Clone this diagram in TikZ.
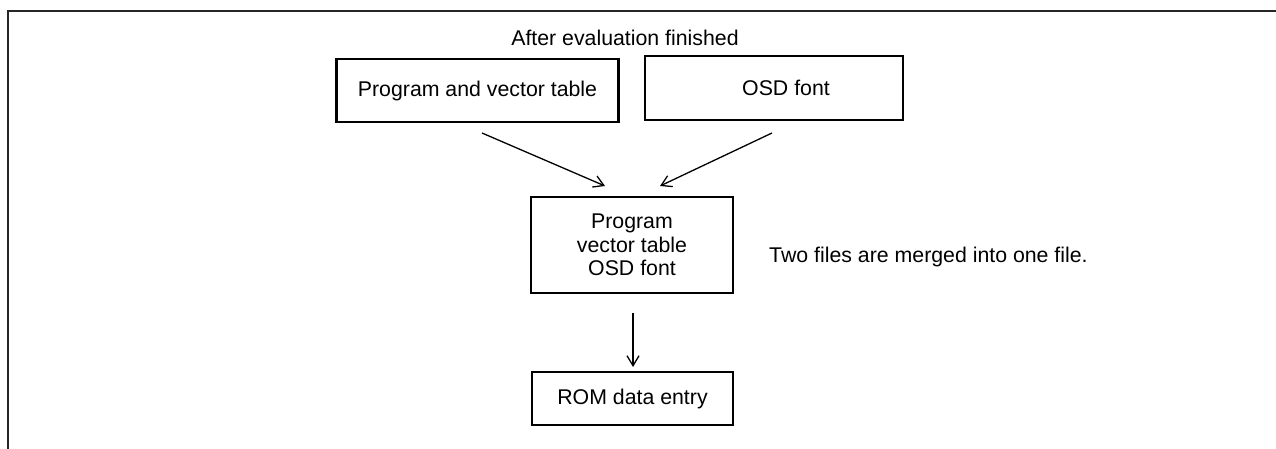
\documentclass[tikz,border=0pt]{standalone}
\usepackage{fontspec}
\setmainfont{Liberation Sans}
\usetikzlibrary{arrows.meta,positioning}
\begin{document}
\begin{tikzpicture}[x=1pt,y=-1pt,
  box/.style={draw=black,line width=2.3pt,inner sep=0pt,align=center,font=\fontsize{21.3}{23.5}\selectfont},
  txt/.style={inner sep=0pt,font=\fontsize{21.3}{23.5}\selectfont},
  arr/.style={draw=black,line width=1.3pt,-{Straight Barb[length=10pt,width=12pt,line width=1.3pt]}},
  frame/.style={draw=black!85,line width=2.4pt}]
\useasboundingbox (0,0) rectangle (1276,449);
% frame
\coordinate (fbl) at (8,452);
\coordinate (ftl) at (8,11);
\coordinate (ftr) at (1280,11);
\draw[frame] (fbl) -- (ftl) -- (ftr);
% title
\node[txt] (title) at (625,38) {After evaluation finished};
% top boxes
\node[box,minimum width=282pt,minimum height=63pt] (b1) at (477.5,90.5) {Program and vector table};
\node[box,minimum width=258pt,minimum height=64pt] (b2) at (774,88) {};
\node[txt] (b2t) at (786,88) {OSD font};
% merged box
\node[box,minimum width=202pt,minimum height=96pt] (m) at (632,245) {Program\\vector table\\OSD font};
\node[txt,anchor=west] (note) at (769,257) {Two files are merged into one file.};
% ROM box
\node[box,minimum width=201pt,minimum height=53pt] (rom) at (632.5,398.5) {ROM data entry};
% arrows
\coordinate (a1s) at (482,133);
\coordinate (a1e) at (605,186);
\coordinate (a2s) at (772,133);
\coordinate (a2e) at (660,186);
\coordinate (a3s) at (633,313);
\coordinate (a3e) at (633,367);
\draw[arr] (a1s) -- (a1e);
\draw[arr] (a2s) -- (a2e);
\draw[arr] (a3s) -- (a3e);
\end{tikzpicture}
\end{document}
